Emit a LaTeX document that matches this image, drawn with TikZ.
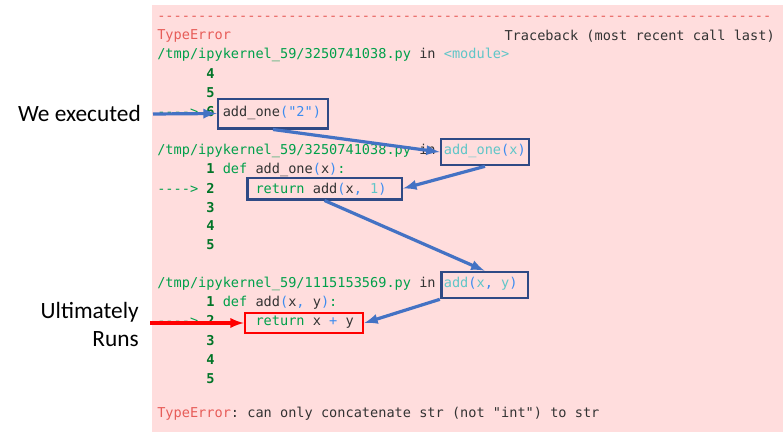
\documentclass[tikz,border=0pt]{standalone}
\usepackage{fontspec}
\setmainfont{Carlito}
\setmonofont{DejaVu Sans Mono}
\usetikzlibrary{positioning}
\definecolor{bgpink}{HTML}{FFDDDD}
\definecolor{errred}{HTML}{E75C58}
\definecolor{pathgreen}{HTML}{00A04A}
\definecolor{numgreen}{HTML}{007427}
\definecolor{cyanish}{HTML}{60C6C8}
\definecolor{parblue}{HTML}{3C8CF0}
\definecolor{txt}{HTML}{333333}
\definecolor{boxblue}{HTML}{2F4A85}
\definecolor{arrblue}{HTML}{4472C4}
\newcommand{\G}[1]{\textcolor{pathgreen}{#1}}
\newcommand{\N}[1]{\textcolor{numgreen}{\bfseries #1}}
\newcommand{\C}[1]{\textcolor{cyanish}{#1}}
\newcommand{\B}[1]{\textcolor{parblue}{#1}}
\begin{document}
\begin{tikzpicture}[x=0.75pt, y=-0.75pt,
    code/.style={anchor=west, inner sep=0pt, text=txt,
        font=\ttfamily\fontsize{10.2}{12}\selectfont},
    hibox/.style={draw=boxblue, line width=2pt, inner sep=0pt},
    redbox/.style={draw=red, line width=2pt, inner sep=0pt},
    flow/.style={->, >=latex, draw=arrblue, line width=2.4pt},
    label/.style={font=\fontsize{17.5}{21}\selectfont, align=right, inner sep=0pt}]
\useasboundingbox (0,0) rectangle (783,432);
\fill[bgpink] (152,5) rectangle (783,432);

% traceback text
\node[code] (dash) at (157,18) {\textcolor{errred}{---------------------------------------------------------------------------}};
\node[code] (err) at (157,36) {\textcolor{errred}{TypeError}};
\node[code, anchor=east] (trace) at (775,36) {Traceback (most recent call last)};
\node[code] (p1) at (157,55) {\G{/tmp/ipykernel\_59/3250741038.py} in \C{<module>}};
\node[code] (l14) at (157,74) {\N{\ \ \ \ \ \ 4}};
\node[code] (l15) at (157,93) {\N{\ \ \ \ \ \ 5}};
\node[code] (l16) at (157,113) {\G{----> }\N{6} add\_one\B{("2")}};
\node[code] (p2) at (157,151) {\G{/tmp/ipykernel\_59/3250741038.py} in \C{add\_one}\B{(}\C{x}\B{)}};
\node[code] (l21) at (157,170) {\N{\ \ \ \ \ \ 1} \G{def} add\_one\B{(}x\B{)}\G{:}};
\node[code] (l22) at (157,189) {\G{----> }\N{2} \ \ \ \ \G{return} add\B{(}x\B{,} \C{1}\B{)}};
\node[code] (l23) at (157,208) {\N{\ \ \ \ \ \ 3}};
\node[code] (l24) at (157,226) {\N{\ \ \ \ \ \ 4}};
\node[code] (l25) at (157,245) {\N{\ \ \ \ \ \ 5}};
\node[code] (p3) at (157,284) {\G{/tmp/ipykernel\_59/1115153569.py} in \C{add}\B{(}\C{x}\B{,} \C{y}\B{)}};
\node[code] (l31) at (157,303) {\N{\ \ \ \ \ \ 1} \G{def} add\B{(}x\B{,} y\B{)}\G{:}};
\node[code] (l32) at (157,322) {\G{----> }\N{2} \ \ \ \ \G{return} x \B{+} y};
\node[code] (l33) at (157,341) {\N{\ \ \ \ \ \ 3}};
\node[code] (l34) at (157,360) {\N{\ \ \ \ \ \ 4}};
\node[code] (l35) at (157,379) {\N{\ \ \ \ \ \ 5}};
\node[code] (msg) at (157,414) {\textcolor{errred}{TypeError}: can only concatenate str (not "int") to str};

% highlight boxes
\node[hibox, minimum width=82.5pt, minimum height=22pt] (call) at (273,113.5) {};
\node[hibox, minimum width=66pt, minimum height=19.5pt] (defone) at (485,152) {};
\node[hibox, minimum width=116pt, minimum height=16pt] (retone) at (324.5,188.5) {};
\node[hibox, minimum width=65pt, minimum height=19.5pt] (defadd) at (484.5,285) {};
\node[redbox, minimum width=88.5pt, minimum height=15pt] (retadd) at (304,323) {};

% labels
\node[label, anchor=east] (exec) at (141,113) {We executed};
\node[label, anchor=east] (runs) at (139,324) {Ultimately\\Runs};
\coordinate (execend) at (153,114);
\coordinate (runsend) at (150,323);

% arrows
\draw[flow] (execend) -- (call.west);
\draw[flow] (call.south) -- (defone.west);
\draw[flow] (defone.south) -- (retone.east);
\draw[flow] (retone.south) -- (defadd.north);
\draw[flow] (defadd.south west) -- (retadd.east);
\draw[->, >=latex, draw=red, line width=2.4pt] (runsend) -- (retadd.west);
\end{tikzpicture}
\end{document}
